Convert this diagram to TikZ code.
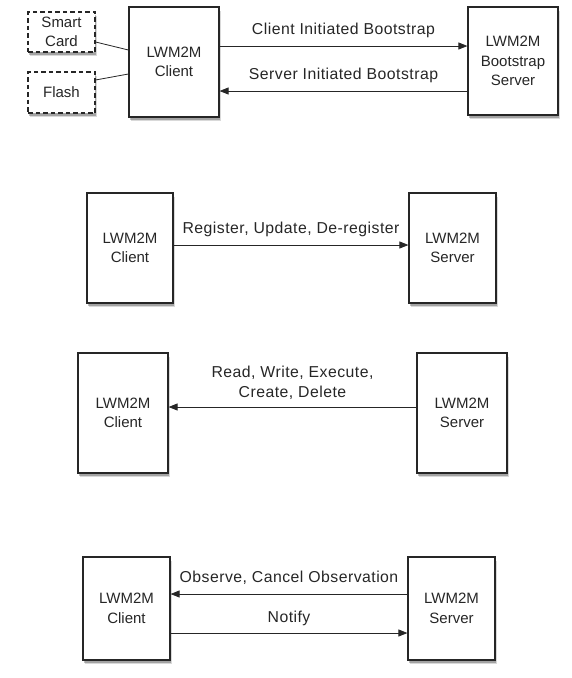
\documentclass[tikz,border=0pt]{standalone}
\usepackage{fontspec}
\setmainfont{Liberation Sans}
\newfontfamily\lblfont[LetterSpace=3]{Liberation Sans}
\usetikzlibrary{arrows.meta,shadows,calc}
\begin{document}
\begin{tikzpicture}[x=1pt,y=-1pt,
  font=\fontsize{15}{19.5}\selectfont,
  box/.style={draw=black!85, line width=1.2pt, fill=white, align=center, inner sep=0pt, text=black!85,
    drop shadow={shadow xshift=1.5pt, shadow yshift=-3.5pt, opacity=0.15, fill=black},
    drop shadow={shadow xshift=1pt, shadow yshift=-2.5pt, opacity=0.25, fill=black}},
  dbox/.style={box, dash pattern=on 4.5pt off 3pt},
  conn/.style={draw=black!85, line width=0.8pt},
  arr/.style={conn, -{Triangle[length=9pt,width=7pt]}},
  lbl/.style={text=black!85, inner sep=0pt, align=center, font=\lblfont\fontsize{15.8}{20}\selectfont}]
\useasboundingbox (0,0) rectangle (572,678);
% Row 1
\node[dbox, minimum width=67pt, minimum height=40pt] (sc) at (61.5,32) {Smart\\Card};
\node[dbox, minimum width=67pt, minimum height=41pt] (fl) at (61.5,92.5) {Flash};
\node[box, minimum width=90pt, minimum height=110pt] (c1) at (174,62) {LWM2M\\Client};
\node[box, minimum width=90pt, minimum height=108pt] (bs) at (513,61) {LWM2M\\Bootstrap\\Server};
\draw[conn] ([yshift=-10pt]sc.east) -- ([yshift=12pt]c1.west);
\draw[conn] ([yshift=12.5pt]fl.east) -- ([yshift=-12pt]c1.west);
\coordinate (a1) at ([yshift=16pt]c1.east);
\draw[arr] (a1) -- (a1 -| bs.west) node[lbl, midway, above=8pt] {Client Initiated Bootstrap};
\coordinate (a2) at ([yshift=-30pt]bs.west);
\draw[arr] (a2) -- (a2 -| c1.east) node[lbl, midway, above=8pt] {Server Initiated Bootstrap};
% Row 2
\node[box, minimum width=86pt, minimum height=110pt] (c2) at (130,248) {LWM2M\\Client};
\node[box, minimum width=87pt, minimum height=110pt] (s2) at (452.5,248) {LWM2M\\Server};
\coordinate (b1) at ([yshift=3pt]c2.east);
\draw[arr] (b1) -- (b1 -| s2.west) node[lbl, midway, above=8pt] {Register, Update, De-register};
% Row 3
\node[box, minimum width=90pt, minimum height=120pt] (c3) at (123,413) {LWM2M\\Client};
\node[box, minimum width=90pt, minimum height=120pt] (s3) at (462,413) {LWM2M\\Server};
\coordinate (d1) at ([yshift=6pt]s3.west);
\draw[arr] (d1) -- (d1 -| c3.east) node[lbl, midway, above=7pt] {Read, Write, Execute,\\Create, Delete};
% Row 4
\node[box, minimum width=87pt, minimum height=103pt] (c4) at (126.5,608.5) {LWM2M\\Client};
\node[box, minimum width=87pt, minimum height=103pt] (s4) at (451.5,608.5) {LWM2M\\Server};
\coordinate (e1) at ([yshift=14.5pt]s4.west);
\draw[arr] (e1) -- (e1 -| c4.east) node[lbl, midway, above=9pt] {Observe, Cancel Observation};
\coordinate (e2) at ([yshift=-24.5pt]c4.east);
\draw[arr] (e2) -- (e2 -| s4.west) node[lbl, midway, above=7pt] {Notify};
\end{tikzpicture}
\end{document}
